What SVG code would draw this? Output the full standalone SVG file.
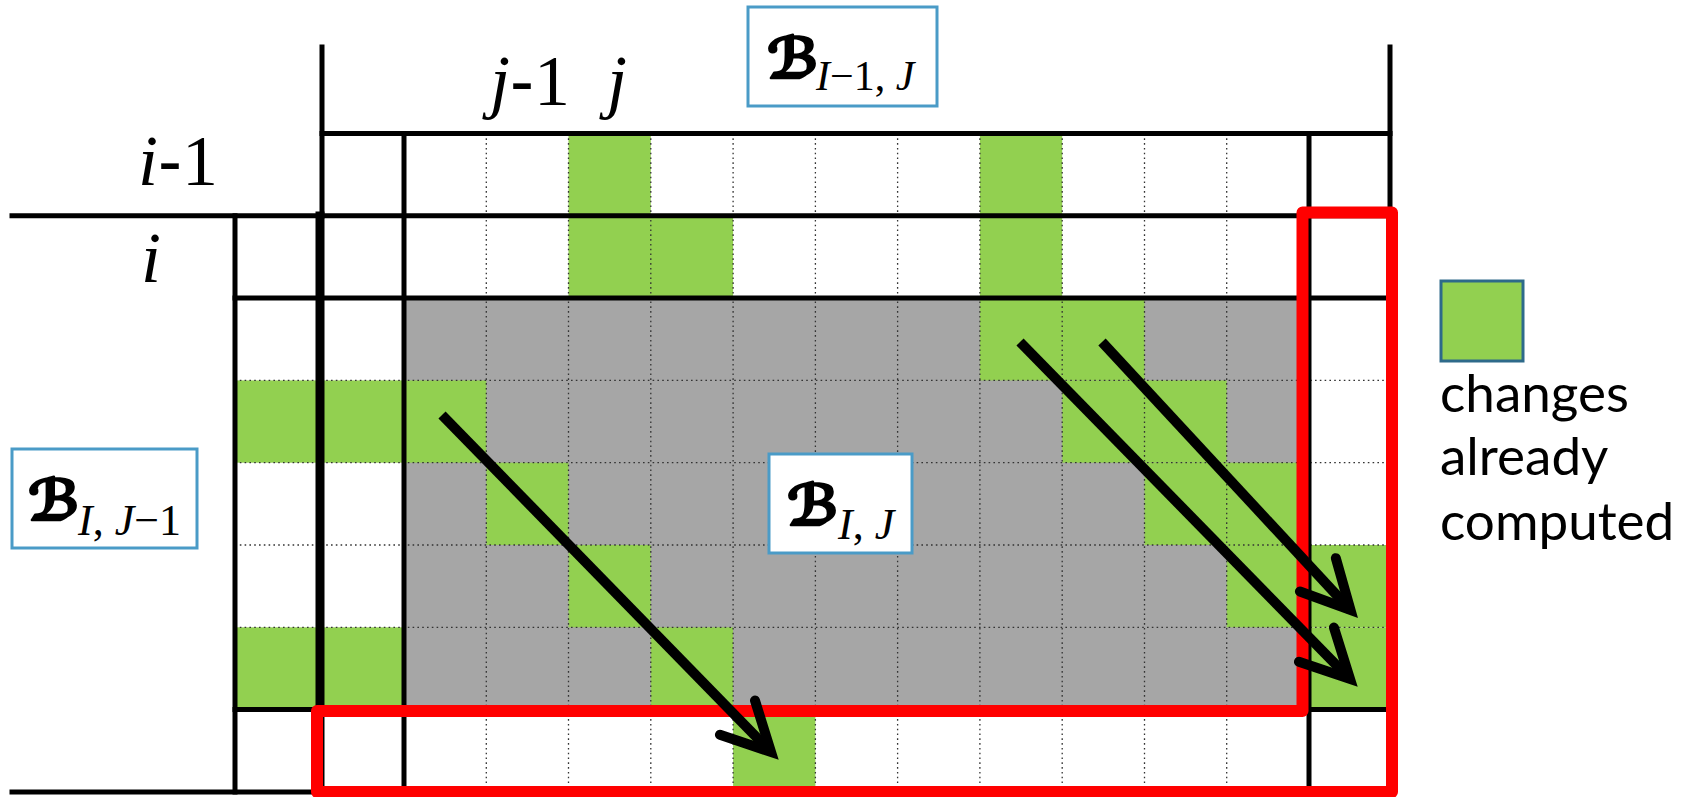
<svg xmlns="http://www.w3.org/2000/svg" width="1694" height="797" viewBox="0 0 1694 797">
<style>
.grn{fill:#92D050}
.gry{fill:#A6A6A6}
.dot{stroke:#333;stroke-width:1.3;stroke-dasharray:1.6 3.2;fill:none}
.ln{stroke:#000;stroke-width:5;fill:none;stroke-linecap:square}
.red{stroke:#FF0000;stroke-width:12;fill:none;stroke-linejoin:round}
.arr{stroke:#000;stroke-width:10;fill:none;marker-end:url(#ah)}
.box{fill:#fff;stroke:#4A9BC7;stroke-width:3}
.m{font-family:"Liberation Serif",serif}
.it{font-style:italic}
.hy{font-family:"Liberation Sans",sans-serif}
.cal{font-family:"DejaVu Sans",sans-serif;font-weight:bold;font-size:56px;stroke:#000;stroke-width:2.4;stroke-linejoin:round}
.lg{font-family:Lato,"Open Sans",sans-serif;font-size:53px}
</style>
<defs>
<marker id="ah" markerUnits="userSpaceOnUse" orient="auto" markerWidth="80" markerHeight="80" refX="0" refY="0" viewBox="-60 -40 80 80" overflow="visible">
<path d="M-48,-24.5 L0,0 L-48,24.5" fill="none" stroke="#000" stroke-width="10" stroke-linecap="round" stroke-linejoin="miter"/>
</marker>
</defs>
<rect width="1694" height="797" fill="#fff"/>
<g id="cells">
<rect class="gry" x="404" y="298.1" width="905" height="411.5"/>
<rect class="grn" x="568.5" y="133.5" width="82.3" height="82.3"/>
<rect class="grn" x="979.9" y="133.5" width="82.3" height="82.3"/>
<rect class="grn" x="568.5" y="215.8" width="164.6" height="82.3"/>
<rect class="grn" x="979.9" y="215.8" width="82.3" height="82.3"/>
<rect class="grn" x="979.9" y="298.1" width="164.6" height="82.3"/>
<rect class="grn" x="235" y="380.4" width="251.3" height="82.3"/>
<rect class="grn" x="1062.2" y="380.4" width="164.5" height="82.3"/>
<rect class="grn" x="486.3" y="462.7" width="82.2" height="82.3"/>
<rect class="grn" x="1144.5" y="462.7" width="164.5" height="82.3"/>
<rect class="grn" x="568.5" y="545" width="82.3" height="82.3"/>
<rect class="grn" x="1226.7" y="545" width="163.3" height="82.3"/>
<rect class="grn" x="235" y="627.3" width="169" height="82.3"/>
<rect class="grn" x="650.8" y="627.3" width="82.3" height="82.3"/>
<rect class="grn" x="1309" y="627.3" width="81" height="82.3"/>
<rect class="grn" x="733.1" y="709.6" width="82.3" height="82.3"/>
</g>
<g id="grid">
<path class="dot" d="M486.3,133.5V791.9M568.5,133.5V791.9M650.8,133.5V791.9M733.1,133.5V791.9M815.4,133.5V791.9M897.6,133.5V791.9M979.9,133.5V791.9M1062.2,133.5V791.9M1144.5,133.5V791.9M1226.7,133.5V791.9"/>
<path class="dot" d="M235,380.4H1390M235,462.7H1390M235,545H1390M235,627.3H1390"/>
<path class="ln" d="M322,133.5H1390M12,215.8H1390M235,298.1H1390M235,709.6H1390M12,791.9H1390"/>
<path class="ln" d="M235,215.8V791.9M322,47V216M404,133.5V791.9M1309,133.5V791.9M1390,47V791.9"/>
<path class="ln" d="M320,216V791.9" style="stroke-width:9"/>
</g>
<g id="region">
<path class="red" d="M1302.5,212.5L1392,212.5L1392,792L317,792L317,711L1302.5,711Z"/>
</g>
<g id="connectors">
<path class="arr" d="M442,415L771,752"/>
<path class="arr" d="M1020,342L1350,679"/>
<path class="arr" d="M1102,342L1350.5,610"/>
</g>
<g id="axis-labels" class="m" font-size="72">
<text x="138" y="185"><tspan class="it">i</tspan><tspan class="hy">-</tspan>1</text>
<text x="141" y="282" class="it">i</text>
<text x="490" y="105"><tspan class="it">j</tspan><tspan class="hy">-</tspan>1</text>
<text x="607" y="105" class="it">j</text>
</g>
<g id="block-top">
<rect class="box" x="748" y="7" width="189" height="99"/>
<text class="m" font-size="42"><tspan x="767" y="78" class="cal">ℬ</tspan><tspan x="816" y="90" class="it">I</tspan>−1, <tspan class="it">J</tspan></text>
</g>
<g id="block-current">
<rect class="box" x="769" y="454" width="143" height="99"/>
<text class="m" font-size="44"><tspan x="787" y="525" class="cal">ℬ</tspan><tspan x="838" y="539" class="it">I</tspan>, <tspan class="it">J</tspan></text>
</g>
<g id="block-left">
<rect class="box" x="12" y="449" width="185" height="99"/>
<text class="m" font-size="44"><tspan x="28" y="520" class="cal">ℬ</tspan><tspan x="78" y="535" class="it">I</tspan>, <tspan class="it">J</tspan>−1</text>
</g>
<g id="legend">
<rect x="1441" y="281" width="82" height="80" fill="#92D050" stroke="#2E6A8A" stroke-width="3"/>
<text class="lg"><tspan x="1440" y="412">changes</tspan><tspan x="1440" y="475">already</tspan><tspan x="1440" y="540">computed</tspan></text>
</g>
</svg>
